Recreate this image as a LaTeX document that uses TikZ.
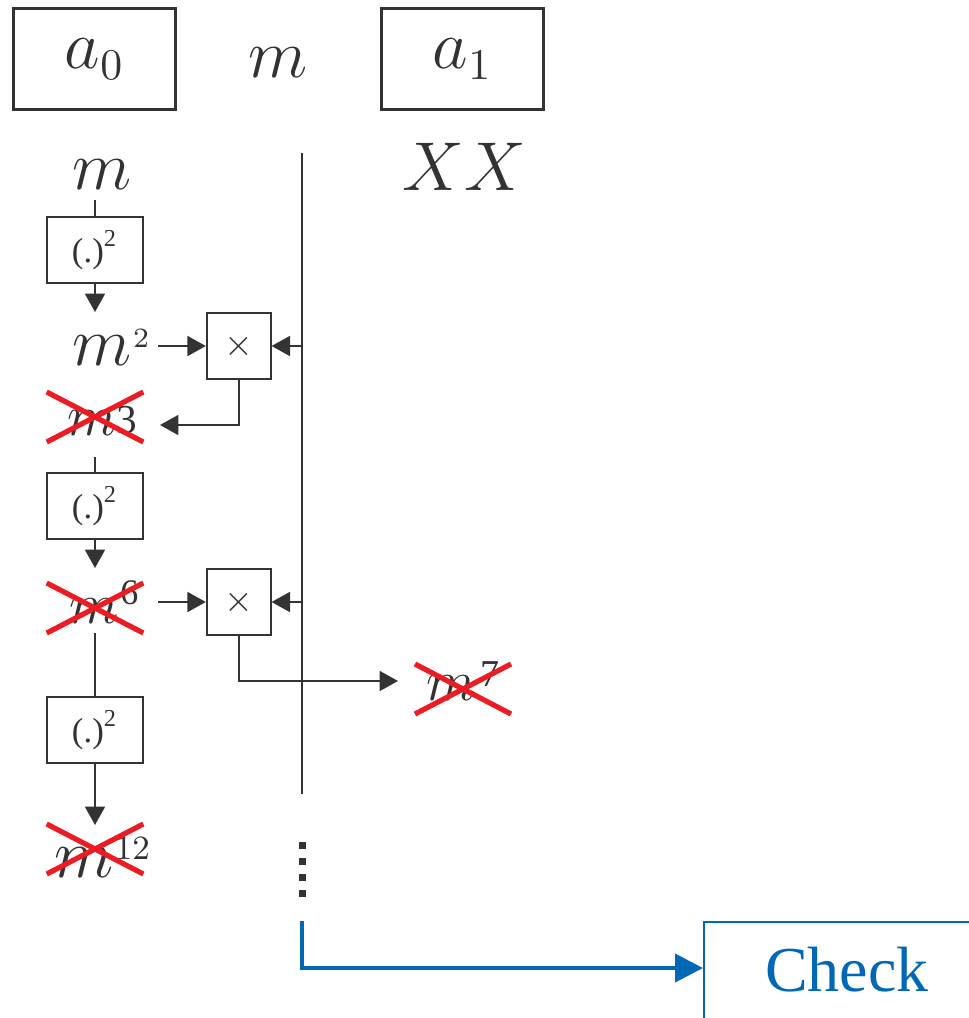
\documentclass[tikz,border=0pt]{standalone}
\usepackage{fontspec}
\newfontfamily\tms{Liberation Serif}
\usetikzlibrary{arrows.meta,calc}
\definecolor{ink}{HTML}{333333}
\definecolor{xred}{HTML}{EC1C24}
\definecolor{cblue}{HTML}{0068B5}
% m with a hand-placed exponent: #1 m size, #2 exponent, #3 exponent size, #4 raise, #5 gap
\newcommand\mpow[5]{{\fontsize{#1}{#1}\selectfont$m$}\hspace{#5}\raisebox{#4}{\fontsize{#3}{#3}\selectfont #2}}
\begin{document}
\begin{tikzpicture}[x=0.25pt,y=-0.25pt,
  every node/.style={inner sep=0pt, text=ink},
  lbl/.style={font=\fontsize{16}{18}\selectfont},
  bigbox/.style={draw=ink, line width=0.8pt, minimum width=40.6pt, minimum height=25.4pt, font=\fontsize{16}{18}\selectfont},
  sqbox/.style={draw=ink, line width=0.45pt, minimum width=24.1pt, minimum height=16.6pt, font=\tms\fontsize{8.7}{10}\selectfont},
  mulbox/.style={draw=ink, line width=0.45pt, minimum width=16pt, minimum height=16.5pt, font=\fontsize{9}{10}\selectfont},
  wire/.style={draw=ink, line width=0.45pt},
  arr/.style={wire, -{Triangle[length=4.6pt,width=5pt]}},
  xline/.style={draw=xred, line width=1.3pt},
  barr/.style={draw=cblue, line width=1pt, -{Triangle[length=7pt,width=7pt]}},
]
\clip (0,0) rectangle (969,1018);
% top row
\node[bigbox] (a0) at (94.5,59) {$a_0$};
\node[bigbox] (a1) at (462.5,59) {$a_1$};
\node[lbl] (mtop) at (278.5,63) {$m$};
\node[lbl] (m1) at (102.5,175) {$m$};
\node[lbl] (xx) at (464.5,166.5) {$XX$};
% vertical bus
\coordinate (vtop) at (302,153);
\coordinate (vbot) at (302,794);
\draw[wire] (vtop) -- (vbot);
% squaring boxes
\node[sqbox] (sq1) at (95,250) {(.)\textsuperscript{2}};
\node[sqbox] (sq2) at (95,506) {(.)\textsuperscript{2}};
\node[sqbox] (sq3) at (95,730) {(.)\textsuperscript{2}};
% multipliers
\node[mulbox] (mul1) at (238.7,346) {$\times$};
\node[mulbox] (mul2) at (238.7,602) {$\times$};
% values
\node[anchor=base] (m2) at (111,365) {\mpow{16}{2}{7}{4.5pt}{0.3pt}};
\node[anchor=base] (m3) at (102,435) {\mpow{14.4}{\tms 3}{10.3}{0.3pt}{0pt}};
\node[anchor=base] (m6) at (104,623) {\mpow{14}{\tms 6}{9}{4.6pt}{0.3pt}};
\node[anchor=base] (m7) at (463,700) {\mpow{14.5}{\tms 7}{9.5}{3.4pt}{1.2pt}};
\node[anchor=base] (m12) at (102,877) {\mpow{16}{12}{8.5}{4.4pt}{0.4pt}};
% connector end points
\coordinate (s1) at (95,200);
\coordinate (t1) at (95,312);
\coordinate (m2e) at (158,345);
\coordinate (t3) at (160,425);
\coordinate (s2) at (95,457);
\coordinate (t2) at (95,568);
\coordinate (m6e) at (158,601);
\coordinate (m6s) at (95,633);
\coordinate (t7) at (398,681);
\coordinate (t12) at (95,825);
% connectors
\draw[wire] (s1) -- (sq1.north);
\draw[arr] (sq1.south) -- (t1);
\draw[arr] (m2e |- mul1.west) -- (mul1.west);
\draw[arr] (vtop |- mul1.east) -- (mul1.east);
\draw[arr] (mul1.south) |- (t3);
\draw[wire] (s2) -- (sq2.north);
\draw[arr] (sq2.south) -- (t2);
\draw[arr] (m6e |- mul2.west) -- (mul2.west);
\draw[arr] (vtop |- mul2.east) -- (mul2.east);
\draw[arr] (mul2.south) |- (t7);
\draw[wire] (m6s) -- (sq3.north);
\draw[arr] (sq3.south) -- (t12);
% crosses
\draw[xline] (46.7,392) -- (143.3,442) (46.7,442) -- (143.3,392);
\draw[xline] (46.7,583) -- (143.3,633) (46.7,633) -- (143.3,583);
\draw[xline] (46.7,824) -- (143.3,874) (46.7,874) -- (143.3,824);
\draw[xline] (415,664) -- (511,714) (415,714) -- (511,664);
% dots
\coordinate (d1) at (302,842);
\coordinate (d2) at (302,898);
\draw[draw=ink, line width=1.75pt, dash pattern=on 1.75pt off 2.25pt] (d1) -- (d2);
% check
\node[draw=cblue, line width=0.5pt, anchor=north west, minimum width=80pt, minimum height=35pt] (checkbox) at (703,921) {};
\node[text=cblue, font=\tms\fontsize{16}{18}\selectfont] (check) at (847,970) {Check};
\coordinate (bstart) at (302,921);
\coordinate (cin) at (checkbox.north west |- 0,968);
\draw[barr] (bstart) |- (cin);
\end{tikzpicture}
\end{document}
